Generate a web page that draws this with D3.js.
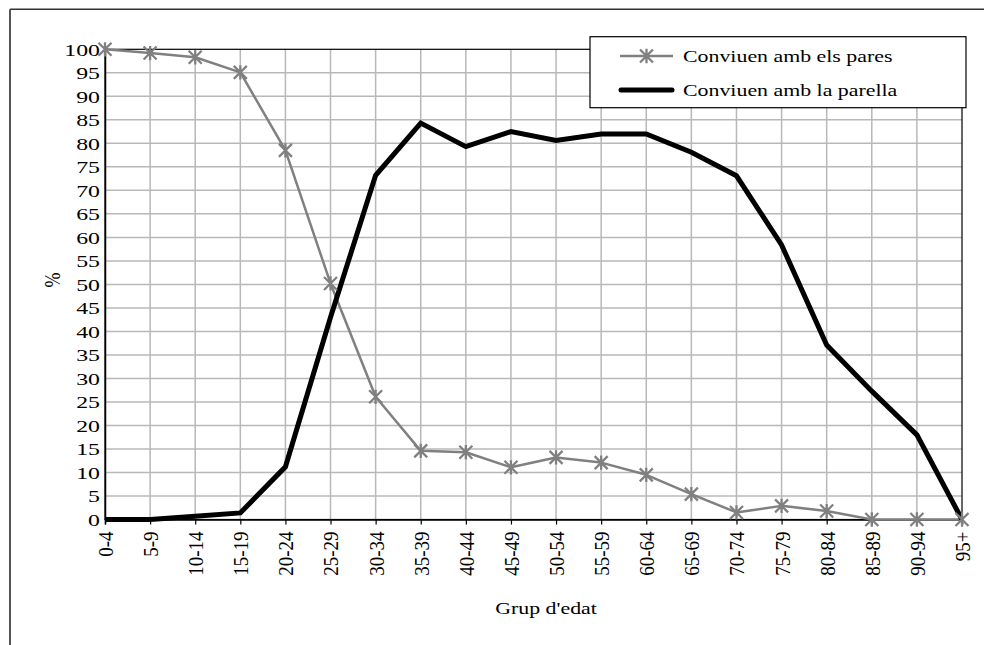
<!DOCTYPE html>
<html>
<head>
<meta charset="utf-8">
<script src="https://cdn.jsdelivr.net/npm/d3@7"></script>
<style>
  html, body { margin: 0; padding: 0; background: #fff; }
  svg text { font-family: "Liberation Serif", "Times New Roman", serif; fill: #000; }
</style>
</head>
<body>
<svg id="chart" width="984" height="645"></svg>
<script>
const categories = ["0-4","5-9","10-14","15-19","20-24","25-29","30-34","35-39","40-44","45-49","50-54","55-59","60-64","65-69","70-74","75-79","80-84","85-89","90-94","95+"];
const pares   = [100, 99.2, 98.3, 95.1, 78.5, 50.2, 26.1, 14.6, 14.3, 11.1, 13.2, 12.1, 9.5, 5.4, 1.5, 2.9, 1.8, 0, 0, 0];
const parella = [0, 0, 0.7, 1.4, 11.2, 43.0, 73.2, 84.3, 79.3, 82.5, 80.6, 82.0, 82.0, 78.1, 73.1, 58.4, 37.1, 27.3, 18.0, 0];
const yTicks = d3.range(0, 101, 5);
const seriesNames = ["Conviuen amb els pares", "Conviuen amb la parella"];

const svg = d3.select("#chart");
const L = 105, R = 962, T = 49.3, B = 519.5;

const x = d3.scalePoint().domain(categories).range([L, R]);
const y = d3.scaleLinear().domain([0, 100]).range([B, T]);

// outer frame (top and left edges visible)
svg.append("line").attr("x1", 10).attr("x2", 984).attr("y1", 9.3).attr("y2", 9.3)
  .attr("stroke", "#333").attr("stroke-width", 1.5);
svg.append("line").attr("x1", 10).attr("x2", 10).attr("y1", 9.3).attr("y2", 645)
  .attr("stroke", "#555").attr("stroke-width", 2);

// gridlines
svg.append("g").selectAll("line").data(yTicks.filter(d => d > 0 && d < 100)).join("line")
  .attr("x1", L).attr("x2", R).attr("y1", d => y(d)).attr("y2", d => y(d))
  .attr("stroke", "#b8b8b8").attr("stroke-width", 1.5);
svg.append("g").selectAll("line").data(categories.slice(1, -1)).join("line")
  .attr("x1", d => x(d)).attr("x2", d => x(d)).attr("y1", T).attr("y2", B)
  .attr("stroke", "#b8b8b8").attr("stroke-width", 1.5);

// plot border
svg.append("rect").attr("x", L).attr("y", T).attr("width", R - L).attr("height", B - T)
  .attr("fill", "none").attr("stroke", "#000").attr("stroke-width", 1.2);

// y axis
const SY = 1.4;
const yAxis = d3.axisLeft(y).tickValues(yTicks).tickSize(0).tickPadding(0);
const gy = svg.append("g").attr("transform", `translate(${L},0)`).call(yAxis);
gy.select(".domain").attr("stroke", "#000").attr("stroke-width", 1.5);
gy.selectAll("text").style("font-size", "17px")
  .attr("x", -5 / SY).attr("dy", "0.34em").attr("transform", `scale(${SY},1)`);

// x axis
const xAxis = d3.axisBottom(x).tickSize(5).tickPadding(8);
const gx = svg.append("g").attr("transform", `translate(0,${B})`).call(xAxis);
gx.select(".domain").attr("stroke", "#000").attr("stroke-width", 1.5);
gx.selectAll(".tick line").attr("stroke", "#000").attr("stroke-width", 1.2);
gx.selectAll("text").style("font-size", "19px")
  .attr("text-anchor", "end").attr("transform", "rotate(-90) scale(1,1.15)")
  .attr("x", -12).attr("y", 0).attr("dy", "0.34em");

// axis titles
const ST = 1.25;
svg.append("text").attr("transform", `translate(546,614) scale(${ST},1)`).attr("text-anchor", "middle")
  .style("font-size", "17.5px").text("Grup d'edat");
svg.append("text").attr("transform", "translate(52,280) rotate(-90) scale(1,1.25)").attr("text-anchor", "middle")
  .attr("dy", "0.34em").style("font-size", "18px").text("%");

// lines
const line = d3.line().x((d, i) => x(categories[i])).y(d => y(d));
svg.append("path").datum(pares).attr("d", line).attr("fill", "none")
  .attr("stroke", "#808080").attr("stroke-width", 2.5).attr("stroke-linejoin", "round");
svg.append("path").datum(parella).attr("d", line).attr("fill", "none")
  .attr("stroke", "#000").attr("stroke-width", 5).attr("stroke-linejoin", "miter");

function star(g, cx, cy, r) {
  const p = `M${cx - r},${cy - r}L${cx + r},${cy + r}M${cx - r},${cy + r}L${cx + r},${cy - r}M${cx},${cy - r * 1.1}L${cx},${cy + r * 1.1}`;
  g.append("path").attr("d", p).attr("stroke", "#808080").attr("stroke-width", 2.3).attr("fill", "none");
}
const mk = svg.append("g");
pares.forEach((v, i) => star(mk, x(categories[i]), y(v), 6.5));

// legend
const lg = svg.append("g");
lg.append("rect").attr("x", 590).attr("y", 36.7).attr("width", 376).attr("height", 71)
  .attr("fill", "#fff").attr("stroke", "#000").attr("stroke-width", 1.2);
lg.append("line").attr("x1", 620).attr("x2", 673).attr("y1", 56).attr("y2", 56)
  .attr("stroke", "#808080").attr("stroke-width", 2.5);
star(lg, 646.5, 56, 6.5);
lg.append("line").attr("x1", 621).attr("x2", 672).attr("y1", 90).attr("y2", 90)
  .attr("stroke", "#000").attr("stroke-width", 5).attr("stroke-linecap", "round");
lg.selectAll("text.leg").data(seriesNames).join("text").attr("class", "leg")
  .attr("transform", (d, i) => `translate(683,${i === 0 ? 56 : 90}) scale(${ST},1)`)
  .attr("dy", "0.34em").style("font-size", "17.5px").text(d => d);
</script>
</body>
</html>
